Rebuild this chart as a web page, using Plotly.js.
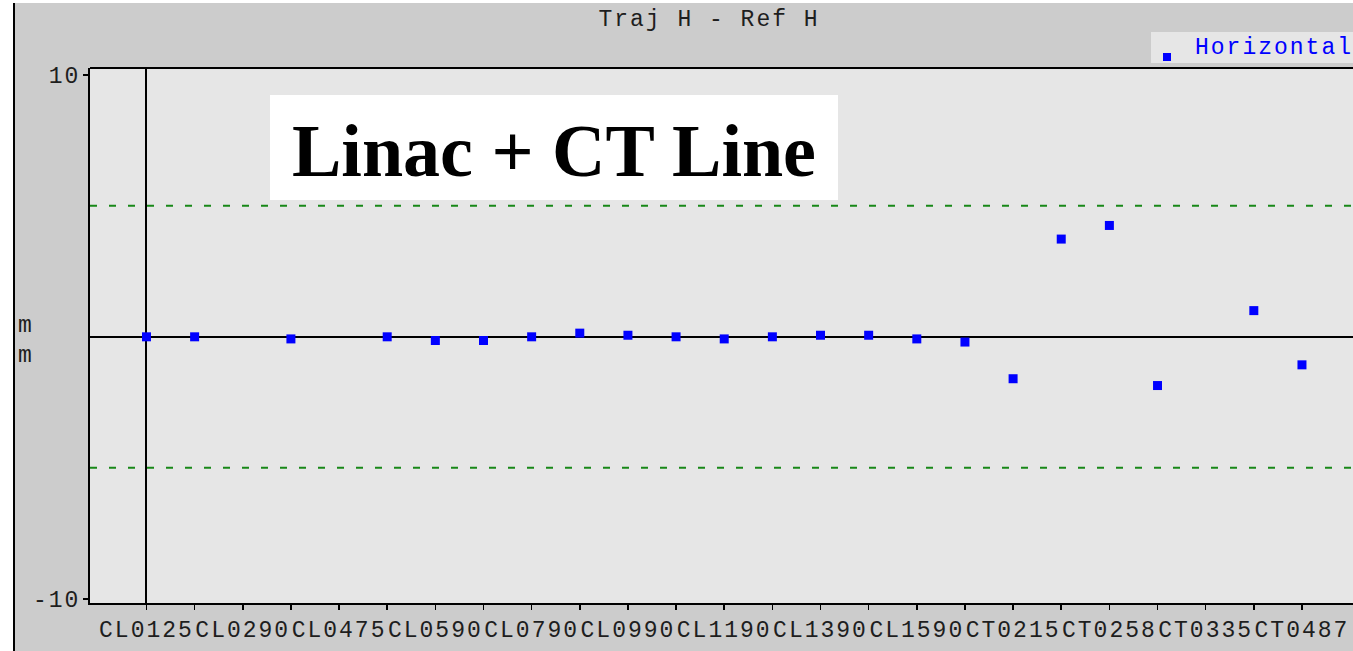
<!DOCTYPE html>
<html>
<head>
<meta charset="utf-8">
<script src="https://cdn.plot.ly/plotly-3.0.1.min.js"></script>
<style>
  html, body { margin: 0; padding: 0; background: #ffffff; width: 1353px; height: 651px; overflow: hidden; }
  #wrap { position: absolute; left: 13px; top: 3px; width: 1338px; height: 648px; border-left: 2px solid #000; }
  #chart { width: 1338px; height: 648px; }
  .xtick text, .ytick text, .gtitle, g.annotation[data-index="2"] text { letter-spacing: 2px; }
</style>
</head>
<body>
<div id="wrap"><div id="chart"></div></div>
<script>
// ---- data ----
const tickLabels = ['CL0125','', 'CL0290','', 'CL0475','', 'CL0590','', 'CL0790','', 'CL0990','',
                    'CL1190','', 'CL1390','', 'CL1590','', 'CT0215','', 'CT0258','', 'CT0335','', 'CT0487'];
const bpmIndex   = [0, 1, 3, 5, 6, 7, 8, 9, 10, 11, 12, 13, 14, 15, 16, 17, 18, 19, 20, 21, 23, 24];
const horizontal = [0.0, 0.0, -0.08, 0.0, -0.14, -0.14, 0.0, 0.14, 0.06, 0.0, -0.08, 0.0, 0.06, 0.06,
                    -0.08, -0.2, -1.6, 3.73, 4.25, -1.86, 1.0, -1.07];
const tolerance  = 5;
const yTicks     = [-10, 10];
const titleText  = 'Traj H - Ref H';
const boxText    = 'Linac + CT Line';
const seriesName = 'Horizontal';

// ---- geometry helpers (figure pixels -> paper) ----
const W = 1338, H = 648, ML = 75, MR = 0, MT = 65, MB = 48;
const PW = W - ML - MR, PH = H - MT - MB;
const px = x => (x - ML) / PW;          // figure x pixel -> paper x
const py = y => 1 - (y - MT) / PH;      // figure y pixel -> paper y

const tickVals = tickLabels.map((_, i) => i);
const mono = 'Liberation Mono, Courier New, monospace';
const txt = '#1e1e1e';

const trace = {
  type: 'scatter', mode: 'markers', name: seriesName,
  x: bpmIndex, y: horizontal,
  marker: { symbol: 'square', size: 9, color: '#0000ff', line: { width: 0 } },
  showlegend: false, cliponaxis: false
};

const layout = {
  width: W, height: H, autosize: false,
  margin: { l: ML, r: MR, t: MT, b: MB, pad: 0 },
  paper_bgcolor: '#cccccc', plot_bgcolor: '#e6e6e6',
  font: { family: mono, color: txt, size: 23 },
  title: { text: titleText, xref: 'container', x: (709 - 15) / W, xanchor: 'center',
           yref: 'container', y: 1 - 15 / H, yanchor: 'middle',
           font: { family: mono, size: 23, color: txt } },
  showlegend: false,
  xaxis: {
    range: [-1.173, 25.06], tickmode: 'array', tickvals: tickVals, ticktext: tickLabels,
    ticks: 'outside', ticklen: 5, tickwidth: 1.5, tickcolor: '#000',
    showline: true, linecolor: '#000', linewidth: 2,
    showgrid: false, zeroline: true, zerolinecolor: '#000', zerolinewidth: 2,
    tickfont: { family: mono, size: 23, color: txt }, ticklabelstandoff: -1,
    fixedrange: true
  },
  yaxis: {
    range: [-10.16, 10.26], tickmode: 'array', tickvals: yTicks, ticktext: yTicks.map(String),
    ticks: 'outside', ticklen: 5, tickwidth: 1.5, tickcolor: '#000',
    showline: true, linecolor: '#000', linewidth: 2,
    showgrid: false, zeroline: true, zerolinecolor: '#000', zerolinewidth: 2,
    tickfont: { family: mono, size: 23, color: txt }, ticklabelstandoff: -2,
    fixedrange: true
  },
  shapes: [
    // top frame line
    { type: 'line', xref: 'paper', yref: 'paper', x0: 0, x1: 1, y0: 1, y1: 1,
      line: { color: '#000', width: 2 } },
    // tolerance lines
    { type: 'line', xref: 'paper', yref: 'y', x0: 0, x1: 1, y0: tolerance, y1: tolerance,
      line: { color: '#188818', width: 2, dash: '7px,12px' } },
    { type: 'line', xref: 'paper', yref: 'y', x0: 0, x1: 1, y0: -tolerance, y1: -tolerance,
      line: { color: '#188818', width: 2, dash: '7px,12px' } },
    // white label box
    { type: 'rect', xref: 'paper', yref: 'paper', layer: 'above',
      x0: px(255), x1: px(823), y0: py(197), y1: py(92),
      fillcolor: '#ffffff', line: { width: 0 } },
    // legend box
    { type: 'rect', xref: 'paper', yref: 'paper', layer: 'above',
      x0: px(1136), x1: px(1345), y0: py(60), y1: py(29),
      fillcolor: '#e6e6e6', line: { width: 0 } },
    // legend marker
    { type: 'rect', xref: 'paper', yref: 'paper', layer: 'above',
      xsizemode: 'pixel', ysizemode: 'pixel', xanchor: px(1152), yanchor: py(54),
      x0: -4, x1: 4, y0: -4, y1: 4, fillcolor: '#0000ff', line: { width: 0 } }
  ],
  annotations: [
    { text: '<b>' + boxText + '</b>', xref: 'paper', yref: 'paper',
      x: px(539), y: py(148), xanchor: 'center', yanchor: 'middle', showarrow: false,
      font: { family: 'Liberation Serif, Times New Roman, serif', size: 74, color: '#000' } },
    { text: 'm<br>m', xref: 'paper', yref: 'y', x: px(10), y: -0.15,
      xanchor: 'center', yanchor: 'middle', showarrow: false, align: 'center',
      font: { family: mono, size: 23, color: txt } },
    { text: seriesName, xref: 'paper', yref: 'paper', x: px(1259), y: py(45),
      xanchor: 'center', yanchor: 'middle', showarrow: false,
      font: { family: mono, size: 23, color: '#0000ff' } }
  ]
};

Plotly.newPlot('chart', [trace], layout, { displayModeBar: false, staticPlot: true });
</script>
</body>
</html>
